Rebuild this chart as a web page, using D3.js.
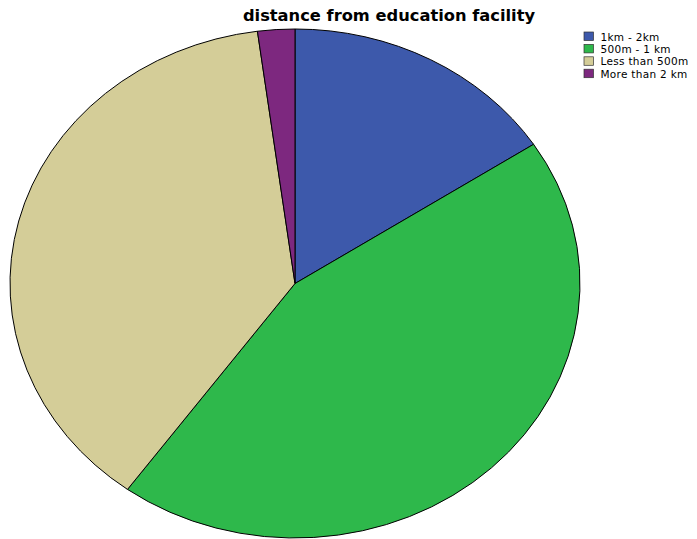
<!DOCTYPE html>
<html><head><meta charset="utf-8">
<script src="https://cdn.jsdelivr.net/npm/d3@7"></script>
<style>body{margin:0;background:#fff}svg{display:block}</style>
</head><body>
<svg id="c" width="697" height="539"></svg>
<script>
const title = "distance from education facility";
const categories = ["1km - 2km", "500m - 1 km", "Less than 500m", "More than 2 km"];
const counts = [15, 42, 36, 2];
const colors = ["#3d59ab", "#2eb84b", "#d4cd98", "#7d287f"];

const svg = d3.select("#c");
const cx = 295, cy = 283.5, rx = 285, ry = 254.5;
const R = 100;

const pie = d3.pie().sort(null).value(d => d)(counts);
const arc = d3.arc().innerRadius(0).outerRadius(R);

const g = svg.append("g")
  .attr("transform", `translate(${cx},${cy}) scale(${rx / R},${ry / R})`);

g.selectAll("path").data(pie).enter().append("path")
  .attr("d", arc)
  .attr("fill", (d, i) => colors[i])
  .attr("stroke", "#000")
  .attr("stroke-width", 1)
  .attr("stroke-linejoin", "round")
  .attr("vector-effect", "non-scaling-stroke");

svg.append("text")
  .attr("x", 389).attr("y", 21)
  .attr("text-anchor", "middle")
  .attr("font-family", "DejaVu Sans, sans-serif")
  .attr("font-weight", "bold")
  .attr("font-size", 16.3)
  .attr("fill", "#000")
  .text(title);

const lg = svg.append("g").attr("transform", "translate(584,32)");
const rows = lg.selectAll("g").data(categories).enter().append("g")
  .attr("transform", (d, i) => `translate(0,${i * 12.4})`);
rows.append("rect")
  .attr("width", 9.5).attr("height", 8.5)
  .attr("fill", (d, i) => colors[i])
  .attr("stroke", "#333").attr("stroke-width", 0.7);
rows.append("text")
  .attr("x", 16.5).attr("y", 8.6)
  .attr("font-family", "DejaVu Sans, sans-serif")
  .attr("font-size", 10.5)
  .attr("letter-spacing", 0.3)
  .attr("fill", "#000")
  .text(d => d);
</script>
</body></html>
